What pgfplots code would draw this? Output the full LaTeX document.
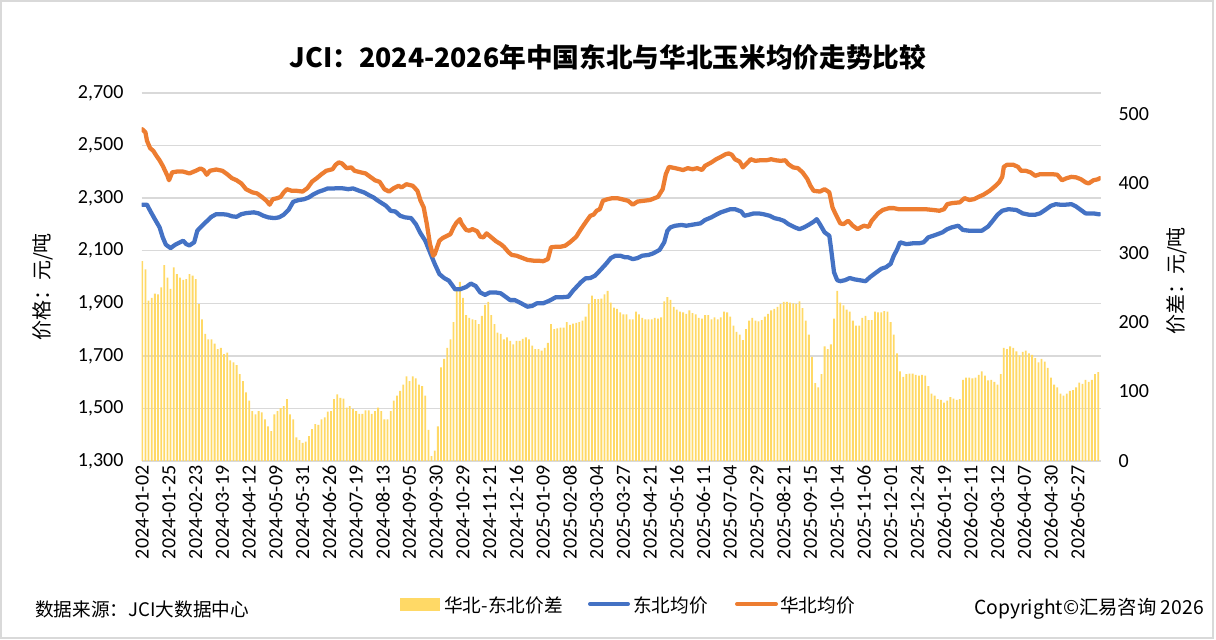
\documentclass[border=0pt]{standalone}
\usepackage{pgfplots}
\pgfplotsset{compat=1.18}
\usepackage{pgfplotstable}
\usepackage{fontspec}
\setmainfont{Carlito}
\newfontfamily\cjk{Noto Sans CJK SC}
\definecolor{barY}{HTML}{FFD966}
\definecolor{lnB}{HTML}{4472C4}
\definecolor{lnO}{HTML}{ED7D31}
\definecolor{gridc}{HTML}{D9D9D9}

\pgfplotstableread{
x v
0 288
2 276
4 231
6 235
8 241
10 240
12 250
14 282
16 264
18 248
20 279
22 269
24 264
26 261
28 262
30 269
32 267
34 262
36 226
38 204
40 183
42 175
44 175
46 169
48 161
50 163
52 154
54 156
56 145
58 142
60 138
62 125
64 115
66 99
68 87
70 72
72 67
74 72
76 70
78 60
80 50
82 43
84 67
86 72
88 76
90 79
92 89
94 67
96 60
98 34
100 30
102 26
104 28
106 36
108 46
110 53
112 52
114 60
116 63
118 71
120 72
122 89
124 96
126 91
128 90
130 77
132 79
134 75
136 72
138 68
140 68
142 73
144 73
146 68
148 72
150 77
152 72
154 60
156 60
158 72
160 87
162 94
164 101
166 110
168 122
170 115
172 122
174 119
176 110
178 108
180 94
182 45
184 7
186 15
188 50
190 135
192 147
194 163
196 175
198 200
200 245
202 258
204 235
206 210
208 206
210 204
212 203
214 197
216 209
218 225
220 229
222 210
224 197
226 185
228 183
230 175
232 178
234 173
236 168
238 173
240 173
242 176
244 178
246 175
248 166
250 161
252 161
254 159
256 163
258 170
260 197
262 190
264 191
266 192
268 192
270 200
272 196
274 198
276 199
278 200
280 202
282 208
284 226
286 238
288 233
290 233
292 234
294 240
296 245
298 228
300 221
302 219
304 214
306 211
308 211
310 204
312 204
314 215
316 211
318 206
320 204
322 204
324 204
326 206
328 205
330 207
332 230
334 236
336 232
338 222
340 218
342 215
344 214
346 212
348 217
350 213
352 211
354 206
356 205
358 210
360 210
362 204
364 207
366 204
368 207
370 215
372 214
374 208
376 195
378 186
380 182
382 174
384 190
386 202
388 206
390 202
392 201
394 203
396 208
398 212
400 217
402 219
404 222
406 226
408 229
410 229
412 228
414 227
416 226
418 230
420 220
422 202
424 182
426 150
428 112
430 106
432 125
434 165
436 161
438 168
440 205
442 245
444 228
446 224
448 218
450 215
452 202
454 195
456 195
458 206
460 209
462 203
464 203
466 215
468 214
470 214
472 216
474 215
476 200
478 182
480 155
482 129
484 121
486 125
488 126
490 126
492 124
494 123
496 124
498 123
500 108
502 97
504 94
506 89
508 88
510 84
512 87
514 92
516 90
518 88
520 89
522 117
524 120
526 120
528 119
530 120
532 124
534 129
536 123
538 116
540 117
542 114
544 110
546 125
548 163
550 161
552 165
554 163
556 158
558 152
560 157
562 159
564 155
566 153
568 148
570 142
572 147
574 143
576 134
578 120
580 110
582 106
584 97
586 94
588 97
590 101
592 102
594 106
596 113
598 111
600 117
602 114
604 117
606 125
608 128
}\diffdata

\pgfplotstableread{
x v
0 2562
2 2550
3 2518
5 2490
7 2480
9 2461
11 2444
13 2423
16 2385
17 2368
19 2398
22 2401
26 2401
30 2394
34 2404
37 2413
39 2407
41 2389
43 2404
47 2409
51 2404
54 2391
57 2376
60 2368
63 2356
66 2334
70 2322
73 2318
76 2305
79 2290
81 2275
83 2296
86 2300
88 2305
90 2322
92 2334
95 2328
98 2328
102 2325
105 2338
108 2363
111 2376
114 2391
117 2404
121 2410
123 2427
125 2436
127 2432
130 2414
133 2417
135 2404
139 2398
142 2394
145 2381
148 2368
151 2362
154 2334
157 2325
160 2338
163 2347
165 2341
168 2353
172 2347
175 2328
177 2290
179 2265
181 2201
183 2125
185 2081
186 2087
189 2138
191 2148
194 2157
196 2163
198 2189
200 2208
202 2220
203 2204
206 2179
208 2176
210 2182
213 2174
215 2153
217 2151
219 2166
222 2151
225 2136
228 2125
230 2115
233 2094
235 2084
238 2081
242 2072
245 2065
249 2062
252 2062
255 2060
258 2068
260 2113
263 2115
266 2115
269 2119
272 2132
276 2153
279 2182
282 2208
285 2233
287 2237
289 2252
291 2258
293 2290
296 2296
299 2300
302 2300
305 2296
309 2290
312 2275
315 2287
319 2290
323 2293
328 2305
331 2334
333 2391
335 2419
339 2414
344 2407
347 2414
350 2410
353 2414
356 2407
358 2423
362 2436
365 2448
368 2457
371 2467
373 2470
375 2465
377 2448
380 2439
382 2417
384 2429
387 2448
390 2442
393 2444
397 2444
400 2448
403 2444
406 2442
409 2444
411 2429
414 2417
417 2414
420 2398
423 2373
425 2347
427 2328
431 2325
434 2334
437 2322
439 2265
441 2239
444 2204
446 2201
449 2214
452 2195
455 2182
457 2189
459 2195
462 2191
464 2214
468 2242
471 2255
475 2262
478 2262
481 2258
486 2258
490 2258
494 2258
498 2258
503 2255
507 2252
510 2258
512 2277
515 2281
520 2284
523 2300
526 2293
529 2296
532 2305
535 2313
539 2328
542 2343
545 2360
547 2381
548 2419
550 2427
554 2427
557 2419
559 2404
562 2404
565 2398
568 2385
571 2391
575 2391
579 2391
582 2389
585 2368
588 2376
591 2381
594 2379
597 2372
600 2360
602 2356
605 2368
608 2372
609 2376
}\ncdata

\pgfplotstableread{
x v
0 2275
3 2275
5 2252
8 2220
11 2189
13 2151
15 2123
18 2110
21 2123
24 2132
26 2138
28 2125
30 2120
33 2132
35 2176
38 2195
41 2212
44 2229
47 2239
51 2239
54 2237
57 2231
60 2229
63 2239
66 2243
71 2246
74 2242
77 2233
80 2227
84 2224
87 2227
90 2237
93 2255
96 2286
99 2292
103 2296
106 2303
109 2315
112 2324
115 2330
118 2337
122 2337
125 2338
128 2337
131 2334
134 2337
138 2328
141 2322
144 2312
147 2303
150 2290
155 2271
158 2252
161 2249
164 2233
167 2227
171 2224
174 2201
177 2166
180 2138
183 2094
186 2050
189 2011
192 1996
195 1986
197 1970
199 1953
202 1953
206 1962
209 1975
212 1966
215 1941
218 1932
221 1941
225 1941
228 1938
231 1925
234 1912
237 1912
241 1900
245 1887
248 1890
251 1900
255 1900
259 1910
263 1923
267 1923
271 1925
274 1948
279 1980
282 1995
285 1996
288 2005
291 2024
295 2050
298 2072
301 2081
304 2081
307 2075
309 2075
312 2068
315 2072
318 2081
322 2084
325 2090
329 2103
332 2132
334 2176
336 2189
339 2195
343 2198
346 2195
349 2198
352 2201
355 2204
358 2217
362 2227
365 2237
368 2246
371 2252
374 2258
377 2258
381 2249
383 2233
386 2237
389 2242
392 2242
395 2239
399 2233
402 2224
405 2220
408 2214
411 2201
415 2189
418 2182
421 2189
424 2199
427 2210
429 2220
431 2201
434 2170
437 2157
438 2113
440 2018
442 1988
444 1984
447 1988
450 1996
453 1991
456 1988
460 1984
463 2000
467 2018
470 2031
473 2037
476 2050
478 2081
480 2103
482 2132
486 2125
490 2128
494 2128
497 2132
500 2151
505 2161
509 2170
512 2182
515 2189
519 2195
522 2179
526 2176
530 2176
534 2176
538 2192
541 2214
544 2237
547 2252
551 2258
556 2255
560 2242
564 2237
568 2237
571 2242
575 2258
578 2271
581 2277
584 2275
587 2275
591 2277
594 2268
597 2255
600 2242
605 2242
608 2239
609 2239
}\nedata

\pgfplotsset{
  base/.style={
    at={(106.125pt,133.5pt)}, anchor=south west,
    scale only axis, width=719.25pt, height=276pt,
    xmin=-0.5, xmax=609.5,
    tick style={draw=none},
    /pgf/number format/assume math mode=true,
    /pgf/number format/1000 sep={,},
    ticklabel style={font=\fontsize{15}{15}\selectfont},
  }
}

\begin{document}
\begin{tikzpicture}[x=0.75pt,y=0.75pt]
\path[use as bounding box] (0,0) rectangle (1216,639);
\draw[gridc, line width=1.5pt] (1,1.5) rectangle (1213,637.5);

% axis with grid and left labels
\begin{axis}[base,
  ymin=1300, ymax=2700, ytick={1300,1500,...,2700},
  ymajorgrids, grid style={gridc, line width=1pt},
  axis x line*=bottom, axis y line*=left,
  x axis line style={gridc, line width=1pt, -},
  y axis line style={draw=none},
  xtick={0,17,...,595},
  xticklabels={2024-01-02,2024-01-25,2024-02-23,2024-03-19,2024-04-12,2024-05-09,2024-05-31,2024-06-26,2024-07-19,2024-08-13,2024-09-05,2024-09-30,2024-10-29,2024-11-21,2024-12-16,2025-01-09,2025-02-08,2025-03-04,2025-03-27,2025-04-21,2025-05-16,2025-06-11,2025-07-04,2025-07-29,2025-08-21,2025-09-15,2025-10-14,2025-11-06,2025-12-01,2025-12-24,2026-01-19,2026-02-11,2026-03-12,2026-04-07,2026-04-30,2026-05-27},
  xticklabel style={rotate=90, anchor=east},
  yticklabel style={xshift=-10pt},
]
\addplot[draw=none] coordinates {(0,1300)};
\end{axis}

% bars on right axis
\begin{axis}[base,
  ymin=0, ymax=530, ytick={0,100,...,500},
  axis x line=none, axis y line*=right,
  y axis line style={draw=none},
  yticklabel style={xshift=10pt},
]
\addplot[ybar, bar width=1.15, bar shift=0pt, fill=barY, draw=none] table[x=x,y=v] {\diffdata};
\end{axis}

% lines on left axis
\begin{axis}[base, hide axis, ymin=1300, ymax=2700]
\addplot[lnB, line width=3.2pt, line join=round, line cap=round] table[x=x,y=v] {\nedata};
\addplot[lnO, line width=3.2pt, line join=round, line cap=round] table[x=x,y=v] {\ncdata};
\end{axis}

% title
\node at (608,582) {\cjk\bfseries\fontsize{20}{20}\selectfont JCI：2024-2026年中国东北与华北玉米均价走势比较};
% axis titles
\node[rotate=90] at (43,352) {\cjk\fontsize{15}{15}\selectfont 价格：元/吨};
\node[rotate=90] at (1177,358) {\cjk\fontsize{15}{15}\selectfont 价差：元/吨};
% legend
\fill[barY] (400,28) rectangle (440,41);
\node[anchor=west, inner sep=0pt] at (444,34) {\cjk\fontsize{14}{14}\selectfont 华北-东北价差};
\draw[lnB, line width=3pt, line cap=round] (590,35) -- (628,35);
\node[anchor=west, inner sep=0pt] at (633,34) {\cjk\fontsize{14}{14}\selectfont 东北均价};
\draw[lnO, line width=3pt, line cap=round] (737,35) -- (776,35);
\node[anchor=west, inner sep=0pt] at (780,34) {\cjk\fontsize{14}{14}\selectfont 华北均价};
% footers
\node[anchor=west, inner sep=0pt] at (35,30) {\cjk\fontsize{14}{14}\selectfont 数据来源：JCI大数据中心};
\node[anchor=east, inner sep=0pt] at (1204,30) {\cjk\fontsize{14.5}{14.5}\selectfont Copyright©汇易咨询 2026};
\end{tikzpicture}
\end{document}
